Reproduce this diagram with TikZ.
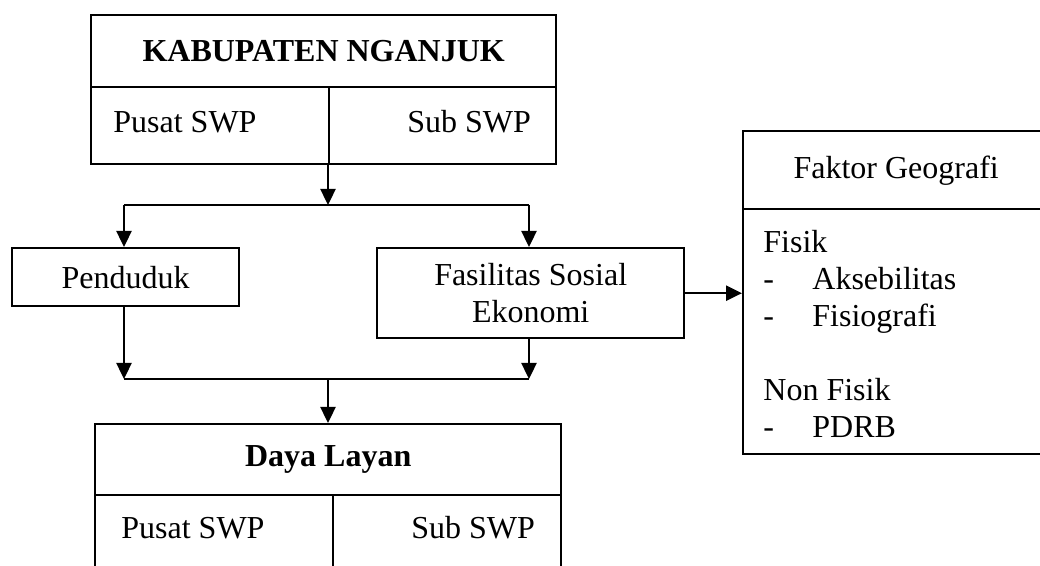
\documentclass[tikz,border=0pt]{standalone}
\usepackage{fontspec}
\setmainfont{Liberation Serif}
\usetikzlibrary{arrows.meta,calc}
\begin{document}
\begin{tikzpicture}[x=0.5pt, y=-0.5pt,
        font=\fontsize{16}{18.5}\selectfont,
        cell/.style={draw, line width=1.2pt, inner sep=0pt, anchor=north west},
        txt/.style={inner sep=0pt},
        link/.style={line width=1.2pt},
        arr/.style={line width=1.2pt, -{Triangle[width=7.5pt,length=8pt]}}]
    \useasboundingbox (0,0) rectangle (1040,566);
    \clip (0,0) rectangle (1040,566);

    % top box
    \node[cell, minimum width=232.5pt, minimum height=36pt] (kab) at (90,14) {\textbf{KABUPATEN NGANJUK}};
    \node[cell, minimum width=119pt, minimum height=38.5pt] (kabpusat) at (90,86) {};
    \node[cell, minimum width=113.5pt, minimum height=38.5pt] (kabsub) at (328,86) {};
    \node[txt, anchor=west] (kabpusattxt) at ([xshift=11.5pt,yshift=2pt]kabpusat.west) {Pusat SWP};
    \node[txt, anchor=east] (kabsubtxt) at ([xshift=-13pt,yshift=2pt]kabsub.east) {Sub SWP};

    % split
    \coordinate (split) at (328,205);
    \coordinate (splitL) at (124,205);
    \coordinate (splitR) at (529,205);
    \draw[arr] (kabsub.south west) -- (split);
    \draw[link] (splitL) -- (splitR);

    \node[cell, minimum width=113.5pt, minimum height=29pt] (pend) at (11,247) {Penduduk};
    \node[cell, minimum width=153.5pt, minimum height=45pt, align=center] (fas) at (376,247) {Fasilitas Sosial\\Ekonomi};
    \draw[arr] (splitL) -- (splitL |- pend.north);
    \draw[arr] (splitR) -- (splitR |- fas.north);

    % merge
    \coordinate (mergeL) at (124,379);
    \coordinate (mergeR) at (529,379);
    \coordinate (merge) at (328,379);
    \draw[arr] (pend.south -| mergeL) -- (mergeL);
    \draw[arr] (fas.south -| mergeR) -- (mergeR);
    \draw[link] (mergeL) -- (mergeR);

    % bottom box
    \node[cell, minimum width=233pt, minimum height=35.5pt] (daya) at (94,423) {\textbf{Daya Layan}};
    \node[cell, minimum width=119pt, minimum height=50pt] (dayapusat) at (94,494) {};
    \node[cell, minimum width=114pt, minimum height=50pt] (dayasub) at (332,494) {};
    \node[txt, anchor=west] (dayapusattxt) at ($(dayapusat.north west)+(27,34)$) {Pusat SWP};
    \node[txt, anchor=east] (dayasubtxt) at ($(dayasub.north east)+(-27,34)$) {Sub SWP};
    \draw[arr] (merge) -- (merge |- daya.north);

    % faktor geografi
    \node[cell, minimum width=153pt, minimum height=39pt] (geo) at (742,130) {Faktor Geografi};
    \node[cell, minimum width=153pt, minimum height=122.5pt] (geobody) at (742,208) {};
    \node[txt, anchor=north west] (geotxt) at (763,226) {%
        \begin{tabular}{@{}p{24.5pt}@{}l@{}}
            \multicolumn{2}{@{}l}{Fisik}\\
            -&Aksebilitas\\
            -&Fisiografi\\
            \\
            \multicolumn{2}{@{}l}{Non Fisik}\\
            -&PDRB
        \end{tabular}};
    \draw[arr] (fas.east) -- (fas.east -| geobody.west);
\end{tikzpicture}
\end{document}
